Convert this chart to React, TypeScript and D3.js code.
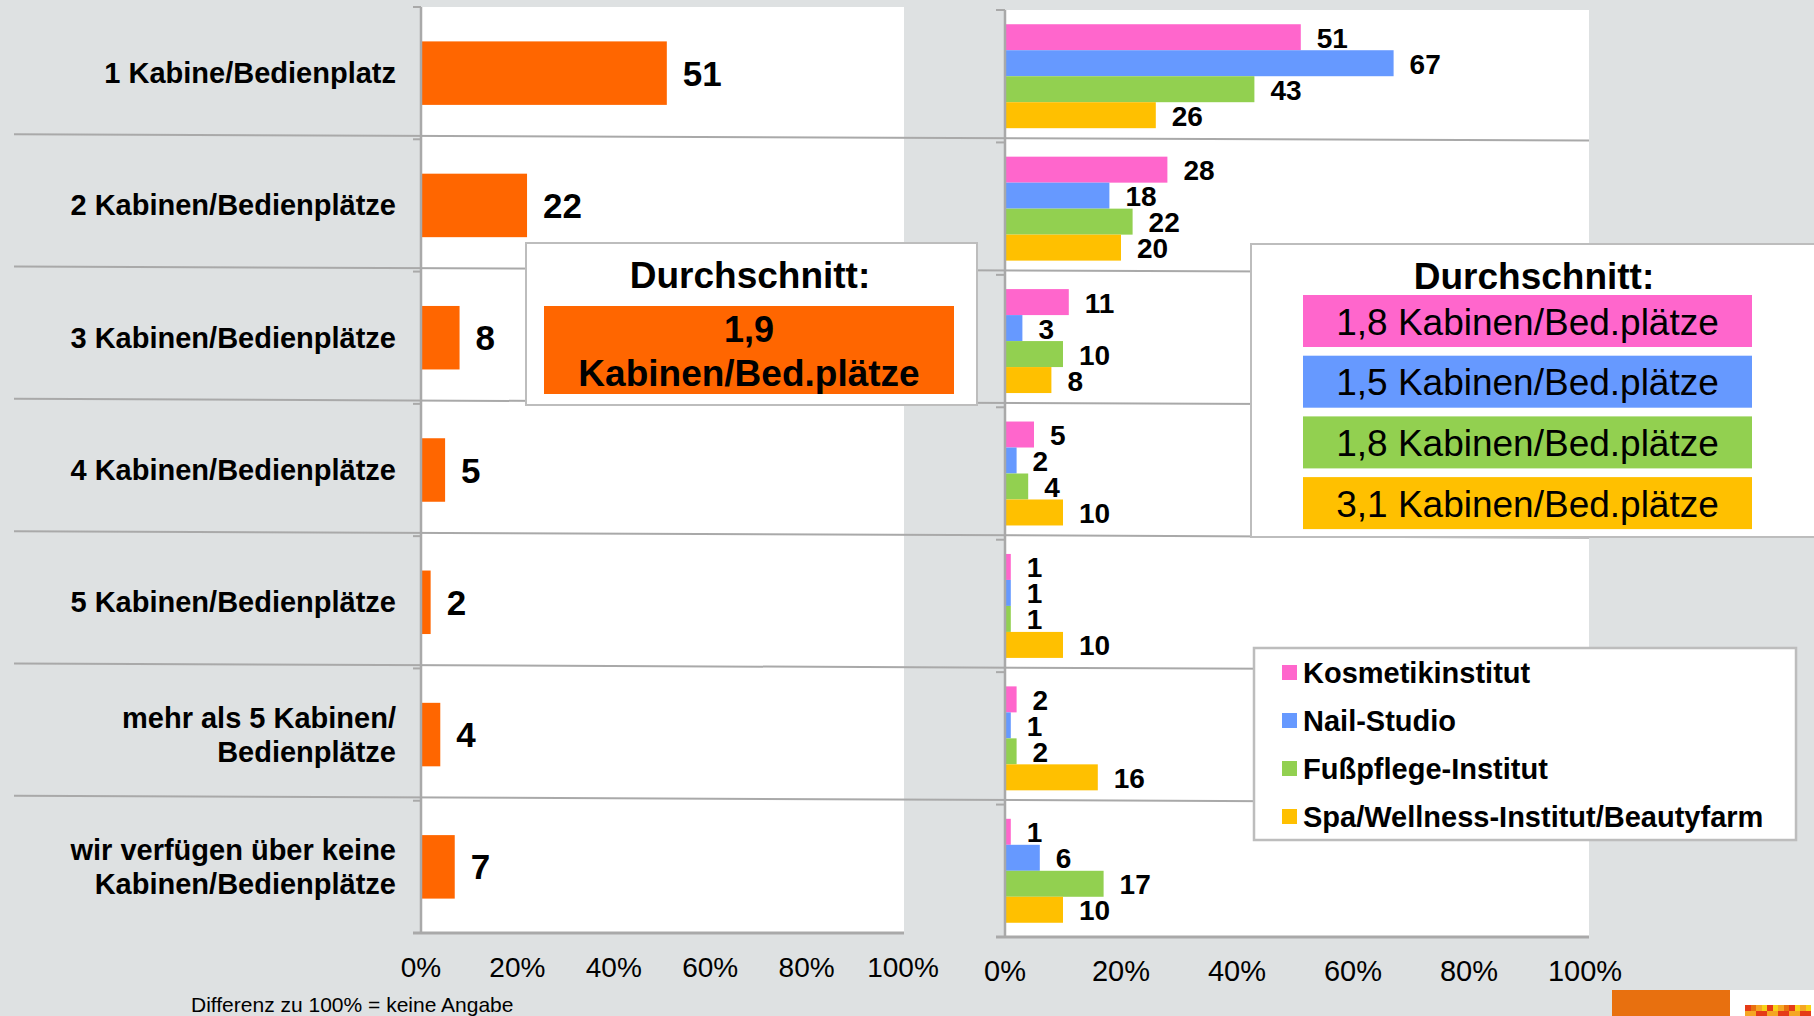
import React from "react";
import * as d3 from "d3";

const categories: string[][] = [
  ["1 Kabine/Bedienplatz"],
  ["2 Kabinen/Bedienplätze"],
  ["3 Kabinen/Bedienplätze"],
  ["4 Kabinen/Bedienplätze"],
  ["5 Kabinen/Bedienplätze"],
  ["mehr als 5 Kabinen/", "Bedienplätze"],
  ["wir verfügen über keine", "Kabinen/Bedienplätze"],
];
const totalValues = [51, 22, 8, 5, 2, 4, 7];
const kosmetikValues = [51, 28, 11, 5, 1, 2, 1];
const nailValues = [67, 18, 3, 2, 1, 1, 6];
const fussValues = [43, 22, 10, 4, 1, 2, 17];
const spaValues = [26, 20, 8, 10, 10, 16, 10];
const seriesNames = [
  "Kosmetikinstitut",
  "Nail-Studio",
  "Fußpflege-Institut",
  "Spa/Wellness-Institut/Beautyfarm",
];
const seriesColors = ["#FF66CC", "#6699FF", "#92D050", "#FFC000"];
const seriesAverages = [
  "1,8 Kabinen/Bed.plätze",
  "1,5 Kabinen/Bed.plätze",
  "1,8 Kabinen/Bed.plätze",
  "3,1 Kabinen/Bed.plätze",
];
const totalAverage = ["1,9", "Kabinen/Bed.plätze"];
const tickValues = [0, 20, 40, 60, 80, 100];
const footnote = "Differenz zu 100% = keine Angabe";

const FONT = "'Liberation Sans', Arial, sans-serif";
const BG = "#DEE1E2";
const LINE = "#A9A9A9";
const ORANGE = "#FF6600";

export default function App() {
  const W = 1814;
  const H = 1016;
  const idx = d3.range(categories.length);

  // left chart scales
  const xL = d3.scaleLinear().domain([0, 100]).range([421, 903]);
  const yL = d3.scaleBand<number>().domain(idx).range([7, 933]).paddingInner(0).paddingOuter(0);
  const barHL = yL.bandwidth() * 0.48;

  // right chart scales
  const xR = d3.scaleLinear().domain([0, 100]).range([1005, 1585]);
  const yR = d3.scaleBand<number>().domain(idx).range([10, 937]).paddingInner(0).paddingOuter(0);
  const groupH = yR.bandwidth() * 0.785;
  const ySub = d3.scaleBand<number>().domain(d3.range(4)).range([0, groupH]).padding(0);
  const series = [kosmetikValues, nailValues, fussValues, spaValues];

  return (
    <svg width={W} height={H} style={{ position: "absolute", left: 0, top: 0, display: "block" }} fontFamily={FONT}>
      <rect x={0} y={0} width={W} height={H} fill={BG} />
      {/* plot areas */}
      <rect x={xL(0)} y={yL.range()[0]} width={xL(100) - xL(0) + 1} height={yL.range()[1] - yL.range()[0]} fill="#fff" />
      <rect x={xR(0)} y={yR.range()[0]} width={xR(100) - xR(0) + 4} height={yR.range()[1] - yR.range()[0]} fill="#fff" />

      {/* separator lines */}
      {idx.slice(1).map((i) => (
        <line key={"sep" + i} x1={14} y1={(yL(i) as number) - 5} x2={xR(100) + 4} y2={(yR(i) as number) - 2} stroke={LINE} strokeWidth={2} />
      ))}

      {/* left bars */}
      {totalValues.map((v, i) => {
        const cy = (yL(i) as number) + yL.bandwidth() / 2;
        return (
          <g key={"lb" + i}>
            <rect x={xL(0)} y={cy - barHL / 2} width={xL(v) - xL(0)} height={barHL} fill={ORANGE} />
            <text x={xL(v) + 16} y={cy} dominantBaseline="central" fontSize={35} fontWeight="bold" fill="#000">
              {v}
            </text>
          </g>
        );
      })}

      {/* left category labels */}
      {categories.map((lines, i) => {
        const cy = (yL(i) as number) + yL.bandwidth() / 2;
        const lh = 34;
        return (
          <text key={"cl" + i} x={396} textAnchor="end" fontSize={29} fontWeight="bold" fill="#000">
            {lines.map((l, j) => (
              <tspan key={j} x={396} y={cy + (j - (lines.length - 1) / 2) * lh} dominantBaseline="central">
                {l}
              </tspan>
            ))}
          </text>
        );
      })}

      {/* right bars */}
      {series.map((vals, s) =>
        vals.map((v, i) => {
          const top = (yR(i) as number) + (yR.bandwidth() - groupH) / 2 + (ySub(s) as number);
          const h = ySub.bandwidth();
          return (
            <g key={"rb" + s + "-" + i}>
              <rect x={xR(0)} y={top} width={xR(v) - xR(0)} height={h} fill={seriesColors[s]} />
              <text x={xR(v) + 16} y={top + h / 2 + 1} dominantBaseline="central" fontSize={28} fontWeight="bold" fill="#000">
                {v}
              </text>
            </g>
          );
        })
      )}

      {/* axes left */}
      <line x1={xL(0)} y1={yL.range()[0]} x2={xL(0)} y2={yL.range()[1]} stroke={LINE} strokeWidth={2.5} />
      <line x1={xL(0) - 8} y1={yL.range()[1]} x2={xL(100) + 1} y2={yL.range()[1]} stroke={LINE} strokeWidth={3} />
      {idx.map((i) => (
        <line key={"tl" + i} x1={xL(0) - 8} x2={xL(0)} y1={yL(i) as number} y2={yL(i) as number} stroke={LINE} strokeWidth={2} />
      ))}
      {tickValues.map((t) => (
        <text key={"xl" + t} x={xL(t)} y={977} textAnchor="middle" fontSize={28} fill="#000">
          {t}%
        </text>
      ))}

      {/* axes right */}
      <line x1={xR(0)} y1={yR.range()[0]} x2={xR(0)} y2={yR.range()[1]} stroke={LINE} strokeWidth={2.5} />
      <line x1={xR(0) - 9} y1={yR.range()[1]} x2={xR(100) + 4} y2={yR.range()[1]} stroke={LINE} strokeWidth={3} />
      {idx.map((i) => (
        <line key={"tr" + i} x1={xR(0) - 9} x2={xR(0)} y1={yR(i) as number} y2={yR(i) as number} stroke={LINE} strokeWidth={2} />
      ))}
      {tickValues.map((t) => (
        <text key={"xr" + t} x={xR(t)} y={981} textAnchor="middle" fontSize={29} fill="#000">
          {t}%
        </text>
      ))}

      {/* footnote */}
      <text x={191} y={1012} fontSize={21} fill="#000">
        {footnote}
      </text>

      {/* left average box */}
      <rect x={526} y={243} width={451} height={162} fill="#fff" stroke="#BDBDBD" strokeWidth={2} />
      <text x={750} y={288} textAnchor="middle" fontSize={37} fontWeight="bold" fill="#000">
        Durchschnitt:
      </text>
      <rect x={544} y={306} width={410} height={88} fill={ORANGE} />
      <text x={749} y={342} textAnchor="middle" fontSize={36} fontWeight="bold" fill="#000">
        {totalAverage[0]}
      </text>
      <text x={749} y={386} textAnchor="middle" fontSize={37} fontWeight="bold" fill="#000">
        {totalAverage[1]}
      </text>

      {/* right average box */}
      <rect x={1251} y={244} width={600} height={293} fill="#fff" stroke="#BDBDBD" strokeWidth={2} />
      <text x={1534} y={289} textAnchor="middle" fontSize={37} fontWeight="bold" fill="#000">
        Durchschnitt:
      </text>
      {seriesAverages.map((a, s) => {
        const top = 295 + s * 60.7;
        return (
          <g key={"avg" + s}>
            <rect x={1303} y={top} width={449} height={52} fill={seriesColors[s]} />
            <text x={1527.5} y={top + 27} dominantBaseline="central" textAnchor="middle" fontSize={37} fill="#000">
              {a}
            </text>
          </g>
        );
      })}

      {/* legend */}
      <rect x={1254} y={648} width={542} height={192} fill="#fff" stroke="#BDBDBD" strokeWidth={2.5} />
      {seriesNames.map((n, s) => (
        <g key={"lg" + s}>
          <rect x={1282} y={665 + s * 48} width={15} height={15} fill={seriesColors[s]} />
          <text x={1303} y={673 + s * 48} dominantBaseline="central" fontSize={29} fontWeight="bold" fill="#000">
            {n}
          </text>
        </g>
      ))}

      {/* bottom-right branding */}
      <rect x={1612} y={990} width={118} height={26} fill="#E8700F" />
      <rect x={1730} y={990} width={84} height={26} fill="#fff" />
      {d3.range(6).map((k) => (
        <g key={"logo" + k}>
          <rect x={1745 + k * 11} y={1005} width={6} height={6} fill={k % 2 ? "#F5A623" : "#E53B17"} />
          <rect x={1751 + k * 11} y={1005} width={5} height={6} fill={k % 3 ? "#F7D117" : "#E8700F"} />
          <rect x={1745 + k * 11} y={1011} width={11} height={5} fill={k % 2 ? "#E53B17" : "#F5A623"} />
        </g>
      ))}
    </svg>
  );
}
